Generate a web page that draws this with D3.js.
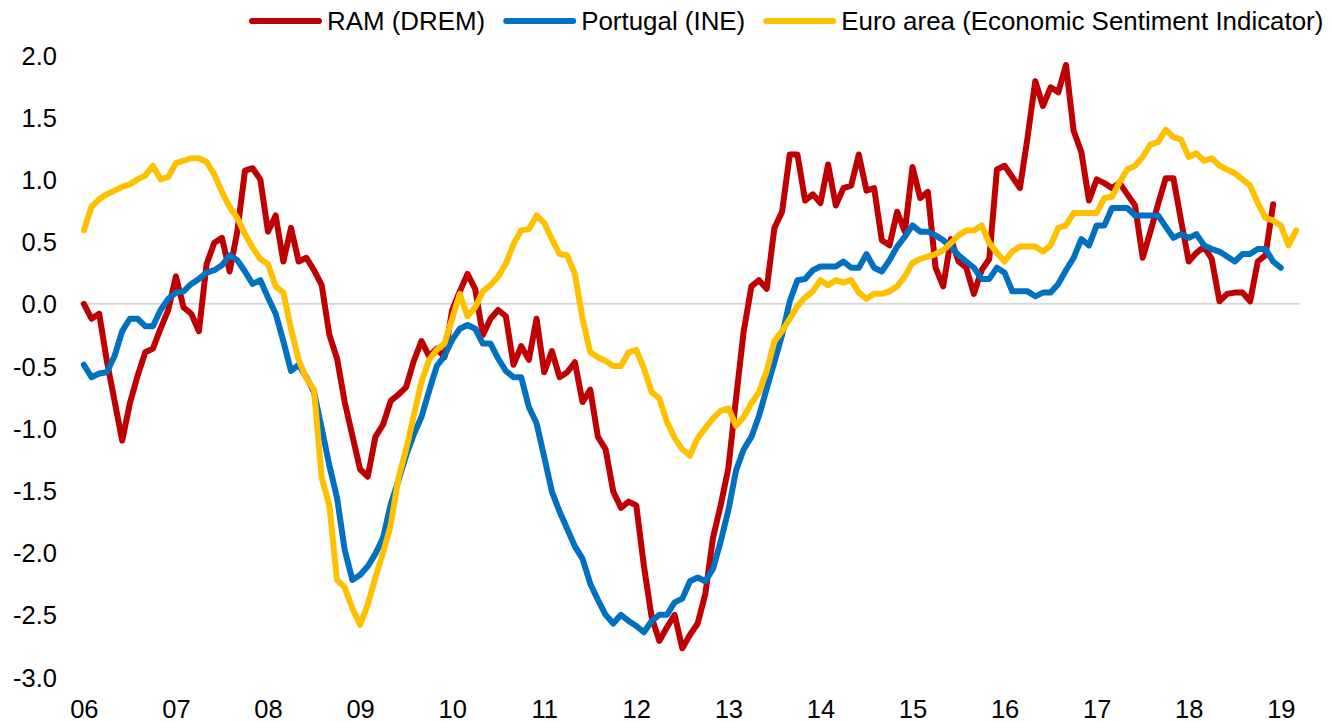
<!DOCTYPE html>
<html>
<head>
<meta charset="utf-8">
<script src="https://cdn.jsdelivr.net/npm/d3@7"></script>
<style>
   body { margin: 0; background: #fff; }
   #chart { width: 1331px; height: 722px; }
   text { font-family: "Liberation Sans", Arial, sans-serif; fill: #000; }
</style>
</head>
<body>
<div id="chart"></div>
<script>

// YEAR LABELS (ONE PER JANUARY)
var years = ['06', '07', '08', '09', '10', '11', '12', '13', '14', '15', '16', '17', '18', '19'];

// Y TICKS
var yTicks = [-3, -2.5, -2, -1.5, -1, -0.5, 0, 0.5, 1, 1.5, 2];

// SERIES NAMES
var names = ['RAM (DREM)', 'Portugal (INE)', 'Euro area (Economic Sentiment Indicator)'];
var colors = ['#C00000', '#0070C0', '#FFC000'];

// RAM (DREM) - MONTHLY FROM JAN 2006
var ram = [
   0.00, -0.12, -0.08, -0.46, -0.78, -1.10, -0.80, -0.58, -0.39, -0.36, -0.20, -0.05,
   0.22, -0.03, -0.08, -0.22, 0.32, 0.49, 0.53, 0.26, 0.58, 1.07, 1.09, 1.00,
   0.58, 0.71, 0.34, 0.61, 0.34, 0.37, 0.27, 0.15, -0.25, -0.44, -0.79, -1.06,
   -1.33, -1.39, -1.07, -0.97, -0.78, -0.73, -0.67, -0.46, -0.30, -0.42, -0.36, -0.43,
   -0.05, 0.10, 0.24, 0.12, -0.25, -0.12, -0.05, -0.10, -0.49, -0.34, -0.45, -0.12,
   -0.55, -0.38, -0.59, -0.55, -0.47, -0.79, -0.69, -1.07, -1.17, -1.51, -1.64, -1.59,
   -1.62, -2.11, -2.52, -2.71, -2.60, -2.50, -2.77, -2.66, -2.57, -2.33, -1.88, -1.62,
   -1.32, -0.76, -0.22, 0.14, 0.19, 0.12, 0.61, 0.74, 1.20, 1.20, 0.83, 0.88,
   0.81, 1.12, 0.79, 0.93, 0.95, 1.20, 0.91, 0.93, 0.51, 0.47, 0.74, 0.58,
   1.10, 0.85, 0.90, 0.29, 0.14, 0.52, 0.34, 0.29, 0.08, 0.27, 0.36, 1.08,
   1.11, 1.02, 0.93, 1.34, 1.79, 1.59, 1.74, 1.70, 1.92, 1.39, 1.22, 0.83,
   1.00, 0.97, 0.93, 0.97, 0.88, 0.79, 0.37, 0.58, 0.80, 1.01, 1.01, 0.67,
   0.34, 0.41, 0.46, 0.36, 0.02, 0.08, 0.09, 0.09, 0.02, 0.34, 0.39, 0.80
];

// PORTUGAL (INE)
var portugal = [
   -0.49, -0.59, -0.56, -0.55, -0.42, -0.22, -0.12, -0.12, -0.18, -0.18, -0.05, 0.04,
   0.09, 0.10, 0.16, 0.20, 0.25, 0.27, 0.31, 0.39, 0.35, 0.26, 0.16, 0.19,
   0.05, -0.08, -0.30, -0.54, -0.49, -0.59, -0.71, -1.00, -1.30, -1.56, -1.98, -2.22,
   -2.18, -2.11, -2.01, -1.88, -1.61, -1.42, -1.22, -1.05, -0.91, -0.70, -0.50, -0.42,
   -0.29, -0.20, -0.17, -0.20, -0.32, -0.32, -0.44, -0.54, -0.59, -0.59, -0.83, -0.96,
   -1.23, -1.51, -1.67, -1.81, -1.95, -2.05, -2.25, -2.38, -2.50, -2.57, -2.50, -2.55,
   -2.59, -2.64, -2.55, -2.50, -2.50, -2.40, -2.37, -2.23, -2.20, -2.23, -2.13, -1.91,
   -1.66, -1.34, -1.17, -1.07, -0.90, -0.68, -0.47, -0.25, 0.02, 0.19, 0.20, 0.27,
   0.30, 0.30, 0.30, 0.34, 0.29, 0.29, 0.40, 0.29, 0.26, 0.35, 0.46, 0.54,
   0.63, 0.58, 0.58, 0.55, 0.51, 0.46, 0.39, 0.34, 0.29, 0.20, 0.20, 0.29,
   0.25, 0.10, 0.10, 0.10, 0.06, 0.09, 0.09, 0.16, 0.27, 0.37, 0.52, 0.47,
   0.63, 0.63, 0.77, 0.77, 0.77, 0.71, 0.71, 0.71, 0.71, 0.62, 0.53, 0.56,
   0.53, 0.56, 0.47, 0.44, 0.42, 0.38, 0.34, 0.40, 0.40, 0.44, 0.44, 0.34,
   0.29
];

// EURO AREA (ESI)
var euro = [
   0.59, 0.78, 0.84, 0.88, 0.91, 0.94, 0.96, 1.00, 1.03, 1.11, 1.00, 1.02,
   1.13, 1.15, 1.17, 1.17, 1.14, 1.04, 0.90, 0.78, 0.69, 0.56, 0.45, 0.36,
   0.32, 0.14, 0.09, -0.20, -0.45, -0.60, -0.69, -1.40, -1.62, -2.22, -2.28, -2.45,
   -2.58, -2.42, -2.20, -2.00, -1.78, -1.40, -1.17, -0.90, -0.63, -0.45, -0.37, -0.32,
   -0.12, 0.08, -0.10, -0.03, 0.10, 0.15, 0.22, 0.32, 0.48, 0.59, 0.60, 0.71,
   0.65, 0.52, 0.40, 0.39, 0.24, -0.12, -0.39, -0.43, -0.46, -0.50, -0.50, -0.39,
   -0.37, -0.52, -0.71, -0.76, -0.95, -1.08, -1.17, -1.22, -1.08, -1.00, -0.92, -0.86,
   -0.84, -0.98, -0.91, -0.80, -0.71, -0.54, -0.30, -0.22, -0.12, -0.02, 0.05, 0.10,
   0.19, 0.15, 0.19, 0.17, 0.19, 0.09, 0.04, 0.08, 0.08, 0.10, 0.14, 0.22,
   0.33, 0.36, 0.38, 0.40, 0.43, 0.49, 0.55, 0.59, 0.59, 0.63, 0.49, 0.41,
   0.34, 0.42, 0.46, 0.46, 0.46, 0.42, 0.47, 0.61, 0.63, 0.73, 0.73, 0.73,
   0.73, 0.85, 0.86, 0.98, 1.08, 1.11, 1.18, 1.28, 1.30, 1.40, 1.34, 1.32,
   1.18, 1.21, 1.15, 1.17, 1.11, 1.08, 1.05, 1.00, 0.95, 0.81, 0.69, 0.67,
   0.63, 0.47, 0.59
];

var series = [ram, portugal, euro];

// CANVAS
var width = 1331, height = 722;
var fontSize = 25.5;

var svg = d3.select('#chart').append('svg')
   .attr('width', width)
   .attr('height', height);

// X-SCALING (ONE SLOT PER MONTH, 159 MONTHS)
var xScale = d3.scaleLinear()
   .domain([-0.5, 158.5])
   .range([80, 1300]);

// Y-SCALING
var yScale = d3.scaleLinear()
   .domain([-3, 2])
   .range([677, 55]);

// ZERO LINE
svg.append('line')
   .attr('x1', xScale.range()[0])
   .attr('x2', xScale.range()[1])
   .attr('y1', yScale(0))
   .attr('y2', yScale(0))
   .attr('stroke', '#d9d9d9')
   .attr('stroke-width', 2);

// Y AXIS LABELS
var yAxis = svg.append('g')
   .attr('transform', 'translate(57,0)')
   .call(d3.axisLeft(yScale)
      .tickValues(yTicks)
      .tickSize(0)
      .tickPadding(0)
      .tickFormat(d => d.toFixed(1)));

yAxis.select('.domain').remove();
yAxis.selectAll('text')
   .attr('dy', '0.36em')
   .style('font-size', fontSize + 'px')
   .style('font-family', '"Liberation Sans", Arial, sans-serif')
   .attr('fill', '#000');

// X AXIS LABELS
var xAxis = svg.append('g')
   .attr('transform', 'translate(0,700)')
   .call(d3.axisBottom(xScale)
      .tickValues(years.map((d, i) => i * 12))
      .tickSize(0)
      .tickPadding(0)
      .tickFormat((d, i) => years[i]));

xAxis.select('.domain').remove();
xAxis.selectAll('text')
   .attr('dy', '0.71em')
   .style('font-size', fontSize + 'px')
   .style('font-family', '"Liberation Sans", Arial, sans-serif')
   .attr('fill', '#000');

// PATH METHOD
var pathify = d3.line()
   .x((d, i) => xScale(i))
   .y((d) => yScale(d));

// DRAW SERIES
series.forEach((data, k) => {
   svg.append('path')
      .attr('fill', 'none')
      .attr('stroke', colors[k])
      .attr('stroke-width', 6)
      .attr('stroke-linejoin', 'round')
      .attr('stroke-linecap', 'round')
      .attr('d', pathify(data));
});

// LEGEND
var legend = svg.append('g');
var lx = 252;

names.forEach((name, k) => {

   legend.append('line')
      .attr('x1', lx)
      .attr('x2', lx + 67)
      .attr('y1', 21)
      .attr('y2', 21)
      .attr('stroke', colors[k])
      .attr('stroke-width', 6)
      .attr('stroke-linecap', 'round');

   var label = legend.append('text')
      .attr('x', lx + 75)
      .attr('y', 30)
      .style('font-size', '25.9px')
      .text(name);

   lx += 75 + label.node().getComputedTextLength() + 21;
});

</script>
</body>
</html>
